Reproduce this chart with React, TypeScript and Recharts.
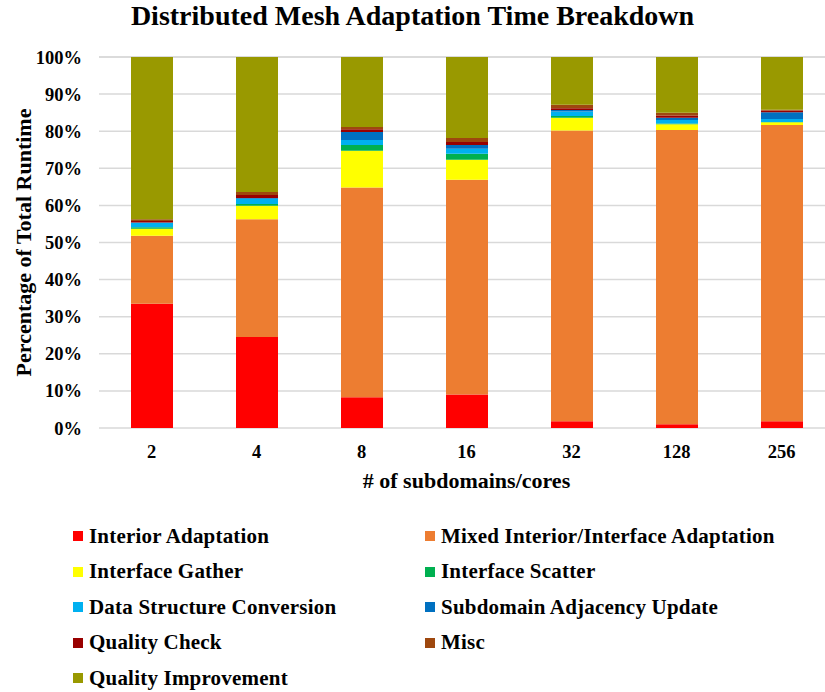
import React from "react";
import { BarChart, Bar, XAxis, YAxis, CartesianGrid } from "recharts";

const cores = ["2", "4", "8", "16", "32", "128", "256"];

// percent of total runtime per phase
const interiorAdaptation = [33.5, 24.5, 8.3, 9.0, 1.8, 1.0, 1.8];
const mixedAdaptation = [18.3, 31.8, 56.5, 57.9, 78.4, 79.3, 79.9];
const interfaceGather = [1.9, 3.6, 9.9, 5.4, 3.4, 1.6, 0.7];
const interfaceScatter = [0.4, 0.5, 1.6, 1.6, 0.5, 0.2, 0.1];
const dataStructConversion = [1.2, 1.4, 1.3, 1.4, 1.2, 0.9, 0.8];
const adjacencyUpdate = [0.1, 0.2, 2.2, 1.0, 0.4, 0.6, 1.8];
const qualityCheck = [0.4, 0.8, 0.7, 0.8, 0.5, 0.6, 0.5];
const misc = [0.5, 0.8, 0.6, 1.1, 0.9, 0.8, 0.2];
const qualityImprovement = [43.7, 36.4, 18.9, 21.8, 12.9, 15.0, 14.2];

const yTicks = [0, 10, 20, 30, 40, 50, 60, 70, 80, 90, 100];

const series = [
  { key: "interior", label: "Interior Adaptation", color: "#FF0000", values: interiorAdaptation },
  { key: "mixed", label: "Mixed Interior/Interface Adaptation", color: "#ED7D31", values: mixedAdaptation },
  { key: "gather", label: "Interface Gather", color: "#FFFF00", values: interfaceGather },
  { key: "scatter", label: "Interface Scatter", color: "#00B050", values: interfaceScatter },
  { key: "dsc", label: "Data Structure Conversion", color: "#00B0F0", values: dataStructConversion },
  { key: "sau", label: "Subdomain Adjacency Update", color: "#0070C0", values: adjacencyUpdate },
  { key: "qc", label: "Quality Check", color: "#990000", values: qualityCheck },
  { key: "misc", label: "Misc", color: "#9E480E", values: misc },
  { key: "qi", label: "Quality Improvement", color: "#999900", values: qualityImprovement },
];

const data = cores.map((c, i) => {
  const row: any = { cores: c };
  series.forEach((s) => (row[s.key] = s.values[i]));
  return row;
});

const font = '"Liberation Serif", "Times New Roman", serif';

export default function App() {
  return (
    <div
      style={{
        position: "absolute",
        left: 0,
        top: 0,
        width: 825,
        height: 692,
        overflow: "hidden",
        background: "#fff",
        fontFamily: font,
      }}
    >
      <div
        style={{
          position: "absolute",
          top: 0,
          left: 0,
          width: 825,
          textAlign: "center",
          fontSize: 28,
          fontWeight: "bold",
          color: "#000",
        }}
      >
        Distributed Mesh Adaptation Time Breakdown
      </div>
      <BarChart
        width={834}
        height={692}
        data={data}
        margin={{ top: 57, right: 0, bottom: 199, left: 0 }}
        barSize={42}
        style={{ fontFamily: font }}
      >
        <CartesianGrid vertical={false} stroke="#D9D9D9" strokeWidth={1.5} />
        <XAxis
          dataKey="cores"
          axisLine={false}
          tickLine={false}
          tickSize={0}
          tickMargin={17}
          height={65}
          tick={{ fill: "#000", fontSize: 18.5, fontWeight: "bold" }}
          label={{
            value: "# of subdomains/cores",
            position: "insideBottom",
            offset: 5,
            fill: "#000",
            fontSize: 22,
            fontWeight: "bold",
          }}
        />
        <YAxis
          domain={[0, 100]}
          ticks={yTicks}
          width={99}
          axisLine={false}
          tickLine={false}
          tickSize={0}
          tickMargin={17}
          tickFormatter={(v) => `${v}%`}
          tick={{ fill: "#000", fontSize: 18.5, fontWeight: "bold" }}
          label={{
            value: "Percentage of Total Runtime",
            angle: -90,
            position: "insideLeft",
            offset: 23,
            fill: "#000",
            fontSize: 22,
            fontWeight: "bold",
            style: { textAnchor: "middle" },
          }}
        />
        {series.map((s) => (
          <Bar key={s.key} dataKey={s.key} stackId="t" fill={s.color} isAnimationActive={false} />
        ))}
      </BarChart>
      <div
        style={{
          position: "absolute",
          left: 73,
          top: 523,
          display: "grid",
          gridTemplateColumns: "352px 380px",
          rowGap: 8.7,
          fontSize: 21,
          fontWeight: "bold",
          color: "#000",
        }}
      >
        {series.map((s) => (
          <div key={s.key} style={{ display: "flex", alignItems: "center", height: 26.8 }}>
            <span style={{ width: 10, height: 10, background: s.color, marginRight: 6, flexShrink: 0 }} />
            <span style={{ letterSpacing: 0.2 }}>{s.label}</span>
          </div>
        ))}
      </div>
    </div>
  );
}
